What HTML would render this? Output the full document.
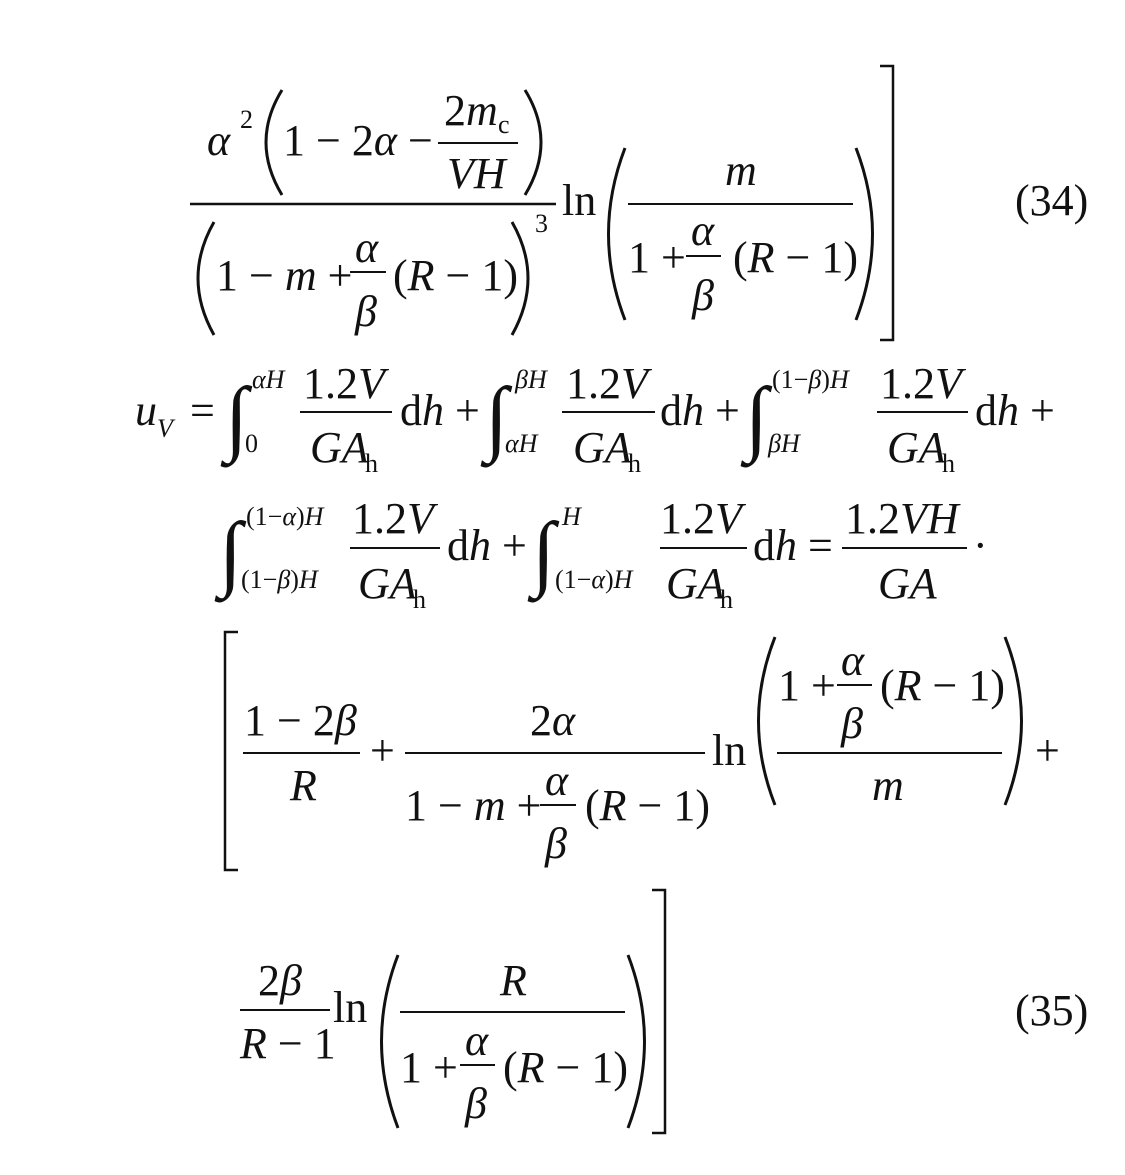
<!DOCTYPE html>
<html><head><meta charset="utf-8"><style>
html,body{margin:0;padding:0;background:#fff;}
svg{display:block;}
text{font-family:"Liberation Serif",serif;font-size:44px;fill:#111;}
.i{font-style:italic;}
.s{font-size:26px;}
.int{font-size:84px;}
</style></head><body>
<svg width="1125" height="1175" viewBox="0 0 1125 1175" xmlns="http://www.w3.org/2000/svg">
<g stroke="#111" stroke-width="2.5" fill="none">
<g stroke-width="3">
<path d="M282 90 Q250 142 282 195"/>
<path d="M525 90 Q557 142 525 195"/>
<path d="M214 222 Q182 278 214 335"/>
<path d="M512 222 Q544 278 512 335"/>
<path d="M625 148 Q592 234 625 320"/>
<path d="M856 148 Q889 234 856 320"/>
<path d="M775 637 Q742 721 775 805"/>
<path d="M1005 637 Q1038 721 1005 805"/>
<path d="M398 955 Q365 1041 398 1128"/>
<path d="M628 955 Q661 1041 628 1128"/>
</g>
<path d="M880 66 L893 66 L893 340 L880 340"/>
<line x1="190" y1="204" x2="556" y2="204"/>
<line x1="438" y1="143" x2="518" y2="143" stroke-width="2"/>
<line x1="350" y1="272" x2="386" y2="272" stroke-width="2"/>
<line x1="628" y1="204" x2="853" y2="204" stroke-width="2"/>
<line x1="686" y1="256" x2="721" y2="256" stroke-width="2"/>
<line x1="300" y1="412" x2="392" y2="412" stroke-width="2"/>
<line x1="562" y1="412" x2="655" y2="412" stroke-width="2"/>
<line x1="877" y1="412" x2="968" y2="412" stroke-width="2"/>
<line x1="350" y1="548" x2="440" y2="548" stroke-width="2"/>
<line x1="660" y1="548" x2="747" y2="548" stroke-width="2"/>
<line x1="842" y1="548" x2="967" y2="548" stroke-width="2"/>
<path d="M238 632 L225 632 L225 870 L238 870"/>
<line x1="243" y1="753" x2="360" y2="753" stroke-width="2"/>
<line x1="405" y1="753" x2="705" y2="753" stroke-width="2"/>
<line x1="540" y1="805" x2="576" y2="805" stroke-width="2"/>
<line x1="777" y1="753" x2="1002" y2="753" stroke-width="2"/>
<line x1="837" y1="685" x2="872" y2="685" stroke-width="2"/>
<path d="M652 890 L665 890 L665 1133 L652 1133"/>
<line x1="240" y1="1010" x2="330" y2="1010" stroke-width="2"/>
<line x1="400" y1="1012" x2="625" y2="1012" stroke-width="2"/>
<line x1="460" y1="1065" x2="495" y2="1065" stroke-width="2"/>
</g>
<text x="207" y="155" class="i">α</text><text x="240" y="128" class="s">2</text>
<text x="283" y="155">1 − 2<tspan class="i">α</tspan> −</text>
<text x="444" y="125">2<tspan class="i">m</tspan></text><text x="498" y="133" class="s">c</text>
<text x="447" y="188" class="i">VH</text>
<text x="216" y="290">1 − <tspan class="i">m</tspan> +</text>
<text x="355" y="262" class="i">α</text><text x="355" y="326" class="i">β</text>
<text x="393" y="290">(<tspan class="i">R</tspan> − 1)</text>
<text x="535" y="232" class="s">3</text>
<text x="562" y="215">ln</text>
<text x="725" y="185" class="i">m</text>
<text x="628" y="272">1 +</text>
<text x="691" y="245" class="i">α</text><text x="692" y="310" class="i">β</text>
<text x="733" y="272">(<tspan class="i">R</tspan> − 1)</text>
<text x="1015" y="215">(34)</text>
<text x="135" y="425" class="i">u</text><text x="157" y="437" class="s i">V</text>
<text x="190" y="425">=</text>
<text x="225" y="445" class="int">∫</text>
<text x="252" y="388" class="s i">αH</text><text x="245" y="452" class="s">0</text>
<text x="303" y="398">1.2<tspan class="i">V</tspan></text>
<text x="310" y="462" class="i">GA</text><text x="365" y="472" class="s">h</text>
<text x="400" y="425">d<tspan class="i">h</tspan> +</text>
<text x="485" y="445" class="int">∫</text>
<text x="515" y="388" class="s i">βH</text><text x="505" y="452" class="s i">αH</text>
<text x="566" y="398">1.2<tspan class="i">V</tspan></text>
<text x="573" y="462" class="i">GA</text><text x="628" y="472" class="s">h</text>
<text x="660" y="425">d<tspan class="i">h</tspan> +</text>
<text x="745" y="445" class="int">∫</text>
<text x="772" y="388" class="s">(1−<tspan class="i">β</tspan>)<tspan class="i">H</tspan></text>
<text x="768" y="452" class="s i">βH</text>
<text x="880" y="398">1.2<tspan class="i">V</tspan></text>
<text x="887" y="462" class="i">GA</text><text x="942" y="472" class="s">h</text>
<text x="975" y="425">d<tspan class="i">h</tspan> +</text>
<text x="219" y="580" class="int">∫</text>
<text x="246" y="525" class="s">(1−<tspan class="i">α</tspan>)<tspan class="i">H</tspan></text>
<text x="241" y="588" class="s">(1−<tspan class="i">β</tspan>)<tspan class="i">H</tspan></text>
<text x="352" y="533">1.2<tspan class="i">V</tspan></text>
<text x="358" y="598" class="i">GA</text><text x="413" y="608" class="s">h</text>
<text x="447" y="560">d<tspan class="i">h</tspan> +</text>
<text x="532" y="580" class="int">∫</text>
<text x="562" y="525" class="s i">H</text>
<text x="555" y="588" class="s">(1−<tspan class="i">α</tspan>)<tspan class="i">H</tspan></text>
<text x="660" y="533">1.2<tspan class="i">V</tspan></text>
<text x="666" y="598" class="i">GA</text><text x="720" y="608" class="s">h</text>
<text x="753" y="560">d<tspan class="i">h</tspan> =</text>
<text x="845" y="533">1.2<tspan class="i">VH</tspan></text>
<text x="878" y="598" class="i">GA</text>
<text x="973" y="560">·</text>
<text x="244" y="735">1 − 2<tspan class="i">β</tspan></text>
<text x="290" y="800" class="i">R</text>
<text x="370" y="765">+</text>
<text x="530" y="735">2<tspan class="i">α</tspan></text>
<text x="405" y="820">1 − <tspan class="i">m</tspan> +</text>
<text x="545" y="795" class="i">α</text><text x="545" y="858" class="i">β</text>
<text x="585" y="820">(<tspan class="i">R</tspan> − 1)</text>
<text x="712" y="765">ln</text>
<text x="778" y="700">1 +</text>
<text x="841" y="675" class="i">α</text><text x="841" y="738" class="i">β</text>
<text x="880" y="700">(<tspan class="i">R</tspan> − 1)</text>
<text x="872" y="800" class="i">m</text>
<text x="1035" y="765">+</text>
<text x="258" y="995">2<tspan class="i">β</tspan></text>
<text x="240" y="1058"><tspan class="i">R</tspan> − 1</text>
<text x="333" y="1022">ln</text>
<text x="500" y="995" class="i">R</text>
<text x="400" y="1082">1 +</text>
<text x="465" y="1055" class="i">α</text><text x="465" y="1118" class="i">β</text>
<text x="503" y="1082">(<tspan class="i">R</tspan> − 1)</text>
<text x="1015" y="1025">(35)</text>
</svg>
</body></html>
